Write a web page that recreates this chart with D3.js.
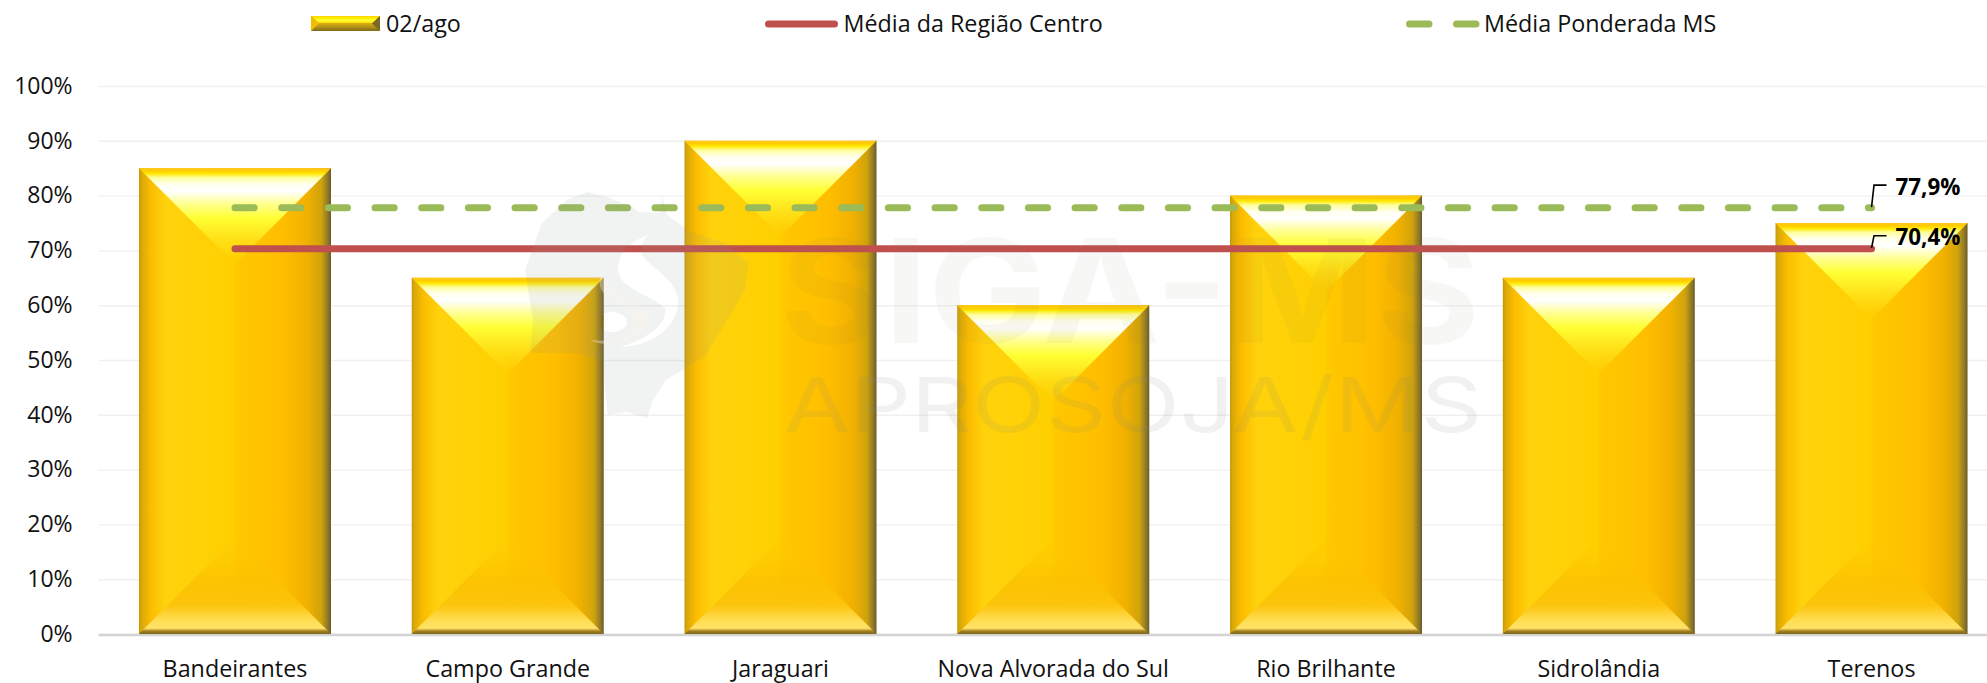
<!DOCTYPE html>
<html lang="pt">
<head>
<meta charset="utf-8">
<script src="https://cdn.jsdelivr.net/npm/d3@7/dist/d3.min.js"></script>
<style>
html,body{margin:0;padding:0;background:#fff;overflow:hidden}
svg{display:block}
text{font-family:"Open Sans",Lato,sans-serif;fill:#111}
</style>
</head>
<body>
<svg id="chart" width="1987" height="683"></svg>
<script>
const categories = ["Bandeirantes","Campo Grande","Jaraguari","Nova Alvorada do Sul","Rio Brilhante","Sidrolândia","Terenos"];
const barValues = [85,65,90,60,80,65,75];
const mediaRegiao = [70.4,70.4,70.4,70.4,70.4,70.4,70.4];
const mediaPonderada = [77.9,77.9,77.9,77.9,77.9,77.9,77.9];
const yTicks = [0,10,20,30,40,50,60,70,80,90,100];
const legendLabels = ["02/ago","Média da Região Centro","Média Ponderada MS"];
const endLabels = ["70,4%","77,9%"];
const RED = "#c0504d", GREEN = "#9bbb59";
const FONT = "'Open Sans'";

const svg = d3.select("#chart");
const x = d3.scaleBand().domain(categories).range([98.6,2007.9]).paddingInner(0.296).paddingOuter(0.148);
const y = d3.scaleLinear().domain([0,100]).range([634,86]);

const defs = svg.append("defs");
function grad(id,vertical,stops){
  const g = defs.append("linearGradient").attr("id",id)
    .attr("x1",0).attr("y1",0).attr("x2",vertical?0:1).attr("y2",vertical?1:0);
  g.selectAll("stop").data(stops).enter().append("stop")
    .attr("offset",d=>d[0]).attr("stop-color",d=>d[1]);
}
grad("face",false,[[0,"#c4980f"],[.012,"#d8a808"],[.06,"#fcbc00"],[.14,"#ffd20c"],[.49,"#ffd000"],[.51,"#ffc800"],[.75,"#ffbe00"],[.88,"#f0b000"],[.95,"#cfa30c"],[.985,"#8c762a"],[1,"#6a5a24"]]);
grad("topTri",true,[[0,"#ffc81a"],[.03,"#ffcc00"],[.055,"#ffe800"],[.10,"#ffffa0"],[.17,"#fffff0"],[.24,"#ffffff"],[.37,"#ffff90"],[.52,"#ffff33"],[.68,"#ffe820"],[1,"rgba(255,204,0,.6)"]]);
grad("botTri",true,[[0,"rgba(255,200,0,.1)"],[.46,"rgba(251,192,0,.8)"],[.70,"#fcc40c"],[.85,"#ffdc50"],[.94,"#ffe268"],[.955,"#d8b040"],[.97,"#a08020"],[1,"#7c661c"]]);
grad("legTop",true,[[0,"#ffd000"],[.2,"#ffe800"],[.6,"#ffff30"],[1,"#ffd400"]]);
grad("legBot",true,[[0,"#d8ac10"],[.5,"#b08e18"],[1,"#806a1c"]]);

// grid and axes
const yAxis = d3.axisLeft(y).tickValues(yTicks).tickFormat(d=>d+"%").tickSize(-1890).tickPadding(26);
const gy = svg.append("g").attr("transform","translate(98.6,0)").call(yAxis);
gy.select(".domain").remove();
gy.selectAll(".tick line").attr("stroke","#f0f0f0").attr("stroke-width",1.4);
gy.selectAll(".tick text").attr("font-size",23).attr("fill","#1a1a1a").style("font-family",FONT);

const xAxis = d3.axisBottom(x).tickSize(0).tickPadding(25);
const gx = svg.append("g").attr("transform","translate(0,635)").call(xAxis);
gx.select(".domain").attr("stroke","#d4d4d4").attr("stroke-width",2.4).attr("d","M98.6,0H1987");
gx.selectAll(".tick text").attr("font-size",23.3).attr("fill","#1a1a1a").style("font-family",FONT);

// bars with bevel
const bars = svg.append("g").selectAll("g").data(categories.map((c,i)=>({c,v:barValues[i]}))).enter().append("g");
bars.append("rect").attr("x",d=>x(d.c)).attr("y",d=>y(d.v)).attr("width",x.bandwidth()).attr("height",d=>y(0)-y(d.v)).attr("fill","url(#face)");
bars.append("path").attr("fill","url(#topTri)").attr("d",d=>{
  const l=x(d.c),w=x.bandwidth(),t=y(d.v);
  return `M${l},${t}H${l+w}L${l+w/2},${t+w/2}Z`;
});
bars.append("path").attr("fill","url(#botTri)").attr("d",d=>{
  const l=x(d.c),w=x.bandwidth(),b=y(0);
  return `M${l},${b}H${l+w}L${l+w/2},${b-w/2}Z`;
});

// lines
const line = d3.line().x((d,i)=>x(categories[i])+x.bandwidth()/2).y(d=>y(d));
const lines = svg.append("g").attr("transform","translate(0,0.6)");
lines.append("path").datum(mediaPonderada).attr("d",line).attr("fill","none").attr("stroke",GREEN)
  .attr("stroke-width",7).attr("stroke-linecap","round").attr("stroke-dasharray","19.2 27.47");
lines.append("path").datum(mediaRegiao).attr("d",line).attr("fill","none").attr("stroke",RED)
  .attr("stroke-width",7).attr("stroke-linecap","round");

// end labels with leader lines
const xEnd = x(categories[6])+x.bandwidth()/2;
const leaders = [{v:mediaRegiao[6],t:endLabels[0],up:12.5,base:245},{v:mediaPonderada[6],t:endLabels[1],up:22,base:195}];
leaders.forEach(l=>{
  const py=y(l.v);
  svg.append("path").attr("fill","none").attr("stroke","#000").attr("stroke-width",1.6)
    .attr("d",`M${xEnd},${py}L${xEnd+2.5},${py-l.up}H${xEnd+15}`);
  svg.append("text").attr("x",xEnd+24).attr("y",l.base).attr("font-size",22.4).attr("font-weight",700).style("font-family",FONT).style("fill","#000").text(l.t);
});

// legend
const lg = svg.append("g");
lg.append("rect").attr("x",311).attr("y",16).attr("width",69).attr("height",15).attr("fill","#b08e18");
lg.append("path").attr("d","M311,16H380L372,23.5H319Z").attr("fill","url(#legTop)");
lg.append("path").attr("d","M311,31H380L372,23.5H319Z").attr("fill","url(#legBot)");
lg.append("path").attr("d","M311,16L319,23.5L311,31Z").attr("fill","#f2bc00");
lg.append("path").attr("d","M380,16L372,23.5L380,31Z").attr("fill","#7c6a20");
lg.append("line").attr("x1",768.5).attr("x2",834.5).attr("y1",24).attr("y2",24).attr("stroke",RED).attr("stroke-width",7).attr("stroke-linecap","round");
lg.append("line").attr("x1",1409.5).attr("x2",1476).attr("y1",24).attr("y2",24).attr("stroke",GREEN).attr("stroke-width",7).attr("stroke-linecap","round").attr("stroke-dasharray","19.5 27.5");
[386,843.5,1484].forEach((lx,i)=>{
  lg.append("text").attr("x",lx).attr("y",32).attr("font-size",23.3).style("font-family",FONT).text(legendLabels[i]);
});

// watermark on top of the chart; the swirl is cut out of the state shape
const wm = svg.append("g").attr("pointer-events","none");
wm.append("path").attr("fill","#8a9690").attr("opacity",.12).attr("fill-rule","evenodd")
  .attr("d","M542,223L567,200L587,192L607,197L633,207L638,212L660,213L662,195L667,215L688,230L700,235L725,243L749,263L745,290L723,327L704,357L666,380L653,400L647,418L627,412L608,415L605,390L603,361L577,353L530,353L533,320L525,270Z"
    +"M648,235C627,243 613,257 620,277C627,290 653,297 665,308C667,323 653,337 620,347C650,347 680,327 678,300C677,280 650,267 642,255C640,247 643,240 648,235Z"
    +"M597,322a15,10 0 1,0 30,0a15,10 0 1,0 -30,0Z");
wm.append("path").attr("fill","#fbf7ee").attr("opacity",.35)
  .attr("d","M604,267C595,282 600,295 615,302C630,308 637,318 632,330C625,340 605,342 590,340C612,350 642,342 648,322C650,305 625,297 612,288C606,282 605,275 604,267Z");
wm.append("text").attr("x",780).attr("y",343).attr("font-size",144).attr("font-weight",700)
  .attr("textLength",700).attr("lengthAdjust","spacingAndGlyphs").attr("opacity",.05).style("font-family","Inter").style("fill","#7a7a50").text("SIGA-MS");
wm.append("text").attr("x",784).attr("y",432).attr("font-size",76).attr("font-weight",400)
  .attr("textLength",698).attr("lengthAdjust","spacingAndGlyphs").attr("opacity",.11).style("font-family","Inter").style("fill","#7c8a80").text("APROSOJA/MS");
</script>
</body>
</html>
